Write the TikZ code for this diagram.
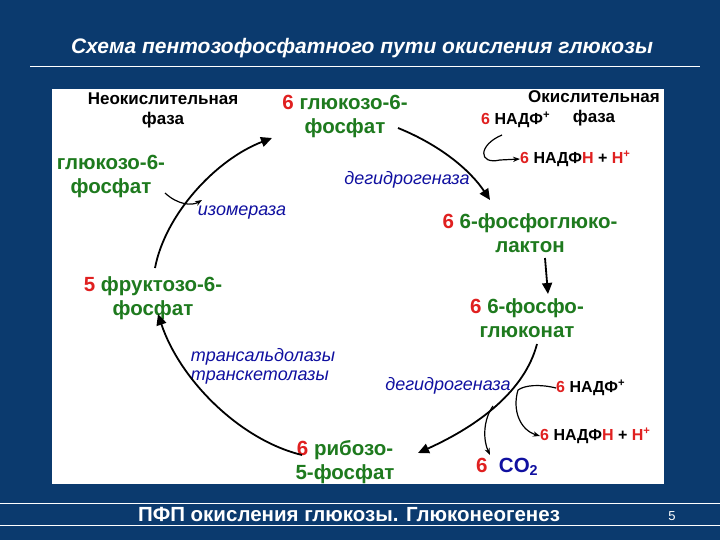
\documentclass[tikz,border=0pt]{standalone}
\usepackage{fontspec}
\setmainfont{Liberation Sans}
\usetikzlibrary{arrows.meta}
\definecolor{bg}{HTML}{0B3A6E}
\definecolor{gr}{HTML}{1E7A1E}
\definecolor{rd}{HTML}{E02020}
\definecolor{bl}{HTML}{1010A0}
\begin{document}
\begin{tikzpicture}[x=1pt,y=-1pt,
 lab/.style={font=\fontsize{20.5}{24}\selectfont\bfseries,text=gr,align=center,inner sep=0pt},
 hd/.style={font=\fontsize{17}{20}\selectfont\bfseries,align=center,inner sep=0pt},
 enz/.style={font=\fontsize{18}{19}\selectfont\itshape,text=bl,align=left,inner sep=0pt},
 sm/.style={font=\fontsize{16}{18}\selectfont\bfseries,inner sep=0pt},
 arr/.style={line width=1.8pt,-{Triangle[length=11pt,width=10pt]}},
 thin/.style={line width=1.2pt,-{Stealth[length=7pt]}}]
\fill[bg] (0,0) rectangle (720,540);
\useasboundingbox (0,0) rectangle (720,540);
\fill[white] (52,89) rectangle (664,484);
\draw[white,line width=0.6pt] (30,66) -- (700,66);
\draw[white,line width=0.6pt] (0,503) -- (720,503);
\draw[white,line width=0.6pt] (0,525) -- (720,525);
\node[white,font=\fontsize{21}{24}\selectfont\bfseries\itshape] (title) at (362,48) {Схема пентозофосфатного пути окисления глюкозы};
\node[white,font=\fontsize{20.5}{24}\selectfont\bfseries] (foot) at (349,514) {ПФП окисления глюкозы. Глюконеогенез};
\node[white,font=\fontsize{13}{15}\selectfont] (pg) at (672,516) {5};

\node[hd] (neo) at (163,110) {Неокислительная\\фаза};
\node[hd] (oks) at (594,108) {Окислительная\\фаза};
\node[lab] (g6p) at (345,116) {\textcolor{rd}{6} глюкозо-6-\\фосфат};
\node[lab] (g6pl) at (111,176) {глюкозо-6-\\фосфат};
\node[lab] (lac) at (530,233) {\textcolor{rd}{6} 6-фосфоглюко-\\лактон};
\node[lab] (glc) at (527,318) {\textcolor{rd}{6} 6-фосфо-\\глюконат};
\node[lab] (rib) at (345,462) {\textcolor{rd}{6} рибозо-\\5-фосфат};
\node[lab] (fru) at (153,298) {\textcolor{rd}{5} фруктозо-6-\\фосфат};
\node[lab,anchor=west] (co2) at (476,467) {\textcolor{rd}{6}\ \ \textcolor{bl}{CO\textsubscript{2}}};

\node[sm,anchor=west] (n1) at (481,120) {\textcolor{rd}{6} НАДФ\textsuperscript{+}};
\node[sm,anchor=west] (n2) at (520,159) {\textcolor{rd}{6} НАДФ\textcolor{rd}{Н} + \textcolor{rd}{Н\textsuperscript{+}}};
\node[sm,anchor=west] (n3) at (556,388) {\textcolor{rd}{6} НАДФ\textsuperscript{+}};
\node[sm,anchor=west] (n4) at (540,436) {\textcolor{rd}{6} НАДФ\textcolor{rd}{Н} + \textcolor{rd}{Н\textsuperscript{+}}};

\node[enz] (e1) at (407,180) {дегидрогеназа};
\node[enz] (e2) at (242,213) {изомераза};
\node[enz] (e3) at (263,366) {трансальдолазы\\транскетолазы};
\node[enz] (e4) at (448,386) {дегидрогеназа};

\coordinate (a1s) at (398,128); \coordinate (a1e) at (490,200);
\coordinate (a2s) at (545,258); \coordinate (a2e) at (548,294);
\coordinate (a3s) at (537,344); \coordinate (a3e) at (418,453);
\coordinate (a4s) at (302,455); \coordinate (a4e) at (158,314);
\coordinate (a5s) at (155,268); \coordinate (a5e) at (272,138);
\draw[arr] (a1s) .. controls (440,145) and (470,170) .. (a1e);
\draw[arr] (a2s) .. controls (546,270) .. (a2e);
\draw[arr] (a3s) .. controls (525,390) and (480,425) .. (a3e);
\draw[arr] (a4s) .. controls (240,440) and (180,380) .. (a4e);
\draw[arr] (a5s) .. controls (165,215) and (215,160) .. (a5e);

\coordinate (j1) at (202,200);
\draw[thin] (165,193) .. controls (178,205) and (192,206) .. (j1);
\coordinate (s1) at (502,135);
\draw[line width=1.2pt] (s1) .. controls (478,145) and (478,165) .. (500,160);
\draw[thin] (500,160) -- (n2.west);
\coordinate (j2) at (518,390);
\draw[line width=1.2pt] (n3.west) .. controls (540,384) and (525,385) .. (j2);
\draw[thin] (j2) .. controls (512,410) and (520,430) .. (n4.west);
\draw[thin] (493,406) .. controls (483,420) and (483,440) .. (490,455);
\end{tikzpicture}
\end{document}
